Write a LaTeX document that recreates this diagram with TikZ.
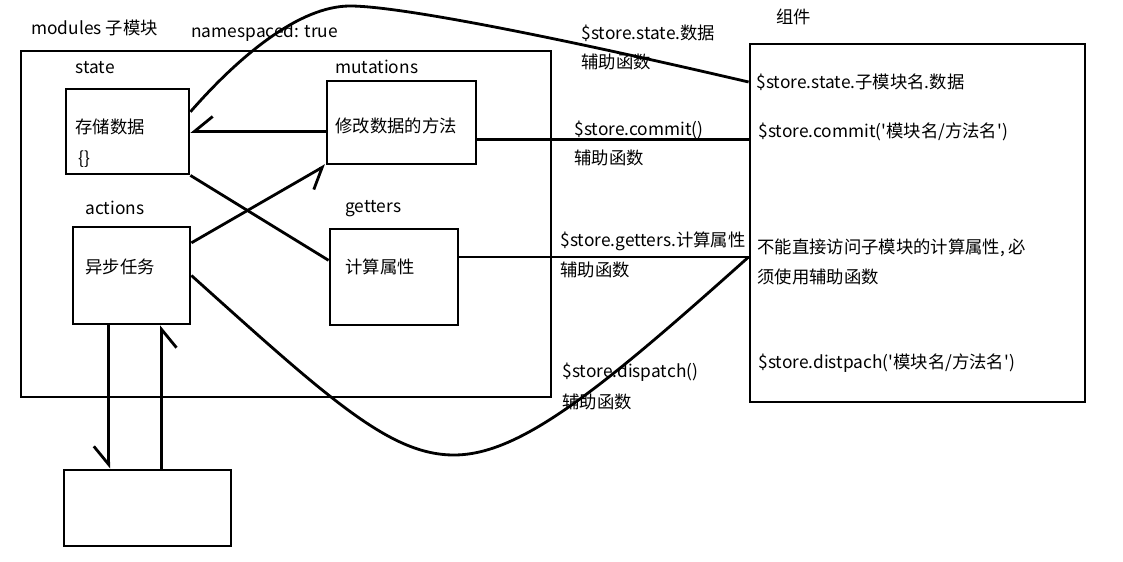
\documentclass[tikz,border=0pt]{standalone}
\usepackage{fontspec}
\setmainfont{Noto Sans CJK SC}
\usetikzlibrary{arrows.meta}
\begin{document}
\begin{tikzpicture}[x=0.03cm, y=-0.03cm, line width=2.4pt,
    box/.style={draw, rectangle, inner sep=0pt},
    lbl/.style={anchor=west, inner sep=0pt, font=\fontsize{14.8}{17}\selectfont},
    half/.style={-{Straight Barb[harpoon, swap, length=0.55cm, width=0.9cm]}}]
  \useasboundingbox (0,0) rectangle (1123,562);
  \draw
    (286,224) node[box, minimum width=15.9cm, minimum height=10.38cm] (mod){}
    (127.5,131.5) node[box, minimum width=3.69cm, minimum height=2.55cm] (st){}
    (401.5,122.5) node[box, minimum width=4.47cm, minimum height=2.49cm] (mut){}
    (131.5,275.5) node[box, minimum width=3.51cm, minimum height=2.91cm] (act){}
    (394,277) node[box, minimum width=3.84cm, minimum height=2.88cm] (get){}
    (917.5,223) node[box, minimum width=10.05cm, minimum height=10.74cm] (cmp){}
    (147.5,508) node[box, minimum width=5.01cm, minimum height=2.28cm] (ext){};
  \path
    (30,28) node[lbl] (modt){modules 子模块}
    (190,33) node[lbl] (ns){namespaced: true}
    (74,68) node[lbl] (stt){state}
    (74,127) node[lbl] (std){存储数据}
    (77,159) node[lbl] (stb){\{\}}
    (334,67) node[lbl] (mutt){mutations}
    (334,126) node[lbl] (mutd){修改数据的方法}
    (84,208) node[lbl] (actt){actions}
    (84,267) node[lbl] (actd){异步任务}
    (344,209) node[lbl] (gett){getters}
    (344,267) node[lbl] (getd){计算属性}
    (775,17) node[lbl] (cmpt){组件}
    (580,33) node[lbl] (h1){\$store.state.数据}
    (580,62) node[lbl] (h1b){辅助函数}
    (573,130) node[lbl] (h2){\$store.commit()}
    (573,158) node[lbl] (h2b){辅助函数}
    (559,241) node[lbl] (h3){\$store.getters.计算属性}
    (559,270) node[lbl] (h3b){辅助函数}
    (561,372) node[lbl] (h4){\$store.dispatch()}
    (561,402) node[lbl] (h4b){辅助函数}
    (755,82) node[lbl] (cs){\$store.state.子模块名.数据}
    (757,132) node[lbl] (cc){\$store.commit(\textquotesingle 模块名/方法名\textquotesingle)}
    (756,248) node[lbl] (cg){不能直接访问子模块的计算属性, 必}
    (756,277) node[lbl] (cg2){须使用辅助函数}
    (757,363) node[lbl] (cd){\$store.distpach(\textquotesingle 模块名/方法名\textquotesingle)};
  \begin{scope}[-]
    \draw (cmp.west |- cs.west) .. controls (560,38) and (400,6) .. (350,6)
      .. controls (300,6) and (240,55) .. ([yshift=0.59cm]st.east);
    \draw[half] (mut.west |- st.east) -- (st.east);
    \draw[half] ([yshift=0.98cm]act.east) -- (mut.south west);
    \draw (st.south east) -- ([yshift=0.5cm]get.west);
    \draw ([yshift=-0.5cm]mut.east) coordinate (m1) -- (m1 -| cmp.west);
    \draw ([yshift=0.6cm]get.east) coordinate (g1) -- (g1 -| cmp.west);
    \draw (act.east) .. controls (330,400) and (390,455) .. (454,455)
      .. controls (520,455) and (600,390) .. (g1 -| cmp.west);
    \draw[half] ([xshift=-0.68cm]act.south) coordinate (a1) -- (a1 |- ext.north);
    \draw[half] ([xshift=0.9cm]act.south |- ext.north) -- ([xshift=0.9cm]act.south);
  \end{scope}
\end{tikzpicture}
\end{document}
